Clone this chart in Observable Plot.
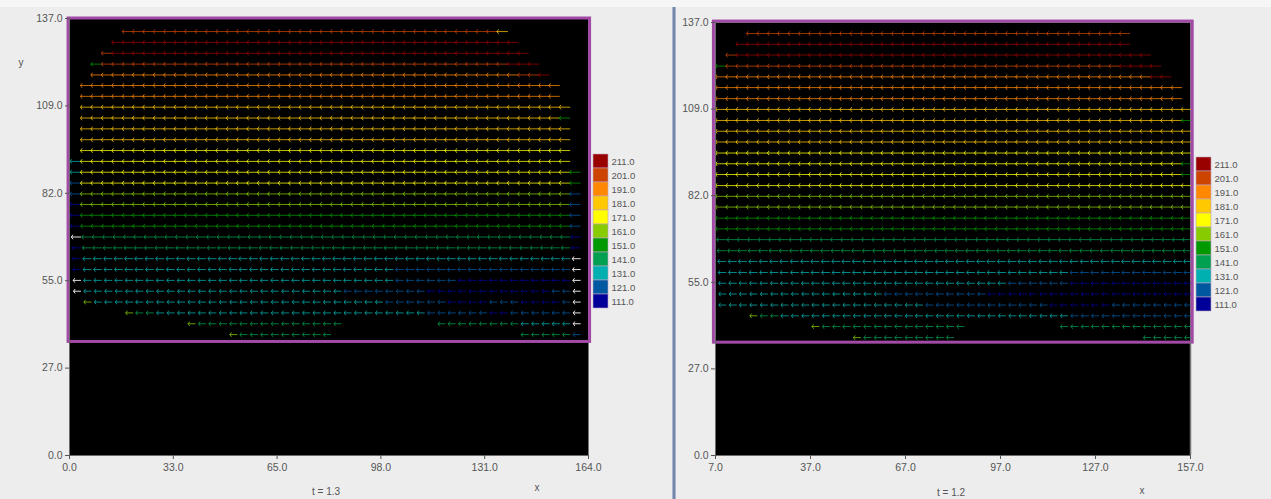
<!DOCTYPE html>
<html><head><meta charset="utf-8">
<script src="https://cdn.jsdelivr.net/npm/d3@7"></script>
<script src="https://cdn.jsdelivr.net/npm/@observablehq/plot@0.6"></script>
<style>
html,body{margin:0;padding:0;background:#ededed;width:1271px;height:499px;overflow:hidden;font-family:"Liberation Sans",Arial,sans-serif;}
#root{position:relative;width:1271px;height:499px;}
.abs{position:absolute;}
.lbl{position:absolute;font-size:10px;color:#555;transform:translate(-50%,-50%);white-space:nowrap;}
</style></head><body><div id="root"></div>
<script>
// ---- legend levels ----
const levels = [211,201,191,181,171,161,151,141,131,121,111];
const levelColors = ["#990000","#cc4400","#ff8800","#ffc800","#ffff00","#88cc00","#009900","#00a050","#00b0b0","#0058a0","#000099"];
const levelCodes = "kjihgfedcba";   // code letter for each level above
const outsideColor = "#eeeeee";      // code "w"

// ---- left panel (t = 1.3) ----
const leftXTicks = [0, 32.8, 65.6, 98.4, 131.2, 164];
const leftXLabels = ["0.0","33.0","65.0","98.0","131.0","164.0"];
const yTicks = [0, 27.4, 54.8, 82.2, 109.6, 137];
const yLabels = ["0.0","27.0","55.0","82.0","109.0","137.0"];
const leftBox = [-0.3, 164.5, 35.6, 137];
const leftColX = [3.5,6.8,10.1,13.4,16.7,20.0,23.2,26.5,29.8,33.1,36.4,39.7,43.0,46.3,49.6,52.9,56.1,59.4,62.7,66.0,69.3,72.6,75.9,79.2,82.5,85.8,89.0,92.3,95.6,98.9,102.2,105.5,108.8,112.1,115.4,118.7,121.9,125.2,128.5,131.8,135.1,138.4,141.7,145.0,148.3,151.6,154.8,158.1,161.4];
const leftRowY = [132.9,129.5,126.1,122.7,119.3,116.0,112.6,109.2,105.8,102.4,99.0,95.6,92.2,88.8,85.4,82.0,78.7,75.3,71.9,68.5,65.1,61.7,58.3,54.9,51.5,48.1,44.7,41.3,37.9];
const leftRowLen = [3.3,3.3,3.3,3.3,3.3,3.3,3.3,3.3,3.3,3.3,3.3,3.3,3.3,3.3,3.3,3.3,3.3,3.3,3.2,2.9,2.7,2.5,2.4,2.3,2.2,2.2,2.2,2.2,2.2];
const leftRowCodes = [
"5.36j1h7.","4.39k6.","3.1j40k5.","2.1e39j3k4.","2.41i2j1k3.","1.46i2.","1.46i2.","1.47h1.","1.46h1e1.","1.47h1.",
"1.47h1.","1.47g1.","1c47g1.","1c47g1e","1b47g1e","1b47f1b","1a47f1b","1a47e1b","1a47e1b","1w47d1a",
"1a47d1a","1a47c1w","1a30c17b1w","1w30c6b11a1w","1w25c8b12a2b1w","1.1f28c6b4a3b4a1b1w","5.1f2d26c6b2a6b1w","11.1f14d9.8d5c1w","15.1f9d18.5d1b"];

// ---- right panel (t = 1.2) ----
const rightXTicks = [7, 37, 67, 97, 127, 157];
const rightXLabels = ["7.0","37.0","67.0","97.0","127.0","157.0"];
const rightBox = [6.5, 157.7, 35.7, 137.3];
const rightColX = [10.3,13.6,16.8,20.1,23.4,26.7,29.9,33.2,36.5,39.7,43.0,46.3,49.5,52.8,56.1,59.4,62.6,65.9,69.2,72.4,75.7,79.0,82.2,85.5,88.8,92.1,95.3,98.6,101.9,105.1,108.4,111.7,114.9,118.2,121.5,124.8,128.0,131.3,134.6,137.8,141.1,144.4,147.6,150.9,154.2,157.4];
const rightRowY = [133.5,130.1,126.7,123.2,119.8,116.4,112.9,109.5,106.0,102.6,99.2,95.7,92.3,88.9,85.4,82.0,78.6,75.1,71.7,68.3,64.8,61.4,57.9,54.5,51.1,47.6,44.2,40.8,37.3];
const rightRowLen = [3.27,3.27,3.27,3.27,3.27,3.27,3.27,3.27,3.27,3.27,3.27,3.27,3.27,3.27,3.27,3.27,3.27,3.27,3.2,2.9,2.7,2.5,2.4,2.3,2.2,2.2,2.2,2.2,2.2];
const rightRowCodes = [
"3.37j6.","2.38k6.","1.1j40k4.","1e38j4k3.","42i2k2.","45i1.","45i1.","46h","45h1e","46h",
"46h","46g","45g1e","45g1e","46g","46f","46f","46e","46e","46d",
"46d","46c","34c12b","28c6b12a","16c10b20a","20c12b6a8b","3.1f2d28c12b","9.1f14d9.13d","13.1f9d18.5d"];

// ---- helpers ----
function decode(s){const out=[];for(const m of s.matchAll(/(\d+)([a-kw.])/g))for(let i=0;i<+m[1];i++)out.push(m[2]);return out;}
function colorOf(c){return c==="w"?outsideColor:levelColors[levelCodes.indexOf(c)];}
function field(rowY,rowLen,rowCodes,colX){
  const arr=[];
  rowCodes.forEach((s,i)=>decode(s).forEach((c,k)=>{if(c!=="."&&k<colX.length)arr.push({x:colX[k],y:rowY[i],len:rowLen[i],code:c});}));
  return arr;
}
const FONT='"Liberation Sans",Arial,sans-serif';
function panel(o){
  const xl=new Map(o.xTicks.map((v,i)=>[v,o.xLabels[i]]));
  const yl=new Map(yTicks.map((v,i)=>[v,yLabels[i]]));
  const marks=[
      Plot.frame({fill:"black"}),
      Plot.arrow(o.data,{x1:"x",y1:"y",x2:d=>d.x-d.len,y2:"y",stroke:d=>colorOf(d.code),strokeOpacity:d=>d.code==="w"?0.95:0.76,strokeWidth:1,headLength:3.5,headAngle:110}),
      Plot.rect([o.box],{x1:d=>d[0],x2:d=>d[1],y1:d=>d[2],y2:d=>d[3],fill:"none",stroke:"#a24ba6",strokeWidth:3}),
      Plot.ruleY([0],{stroke:"#6a6a6a"}),
      Plot.ruleX([o.xDomain[0]],{stroke:"#6a6a6a"}),
      Plot.axisX({ticks:o.xTicks,tickFormat:d=>xl.get(d),tickSize:4,tickPadding:4,label:null,stroke:"#555"}),
      Plot.axisY({ticks:yTicks,tickFormat:d=>yl.get(d),tickSize:4,tickPadding:3,label:null,stroke:"#555"})
  ];
  if(o.edge) marks.push(Plot.ruleX([o.xDomain[1]],{y1:0,y2:o.box[2],stroke:"#777",strokeWidth:1.5}));
  return Plot.plot({
    width:o.width,height:499,marginLeft:o.ml,marginRight:o.mr,marginTop:o.mt,marginBottom:44,
    x:{domain:o.xDomain},y:{domain:[0,137]},
    style:{background:"transparent",fontFamily:FONT,fontSize:"10.5px",color:"#555",overflow:"visible"},
    marks
  });
}
function legend(){
  return Plot.plot({
    width:42,height:156,marginLeft:0,marginRight:27,marginTop:0,marginBottom:0,
    y:{type:"band",domain:levels,padding:0},
    style:{background:"transparent",fontFamily:FONT,fontSize:"9.5px",color:"#555",overflow:"visible"},
    marks:[
      Plot.cell(levels,{y:d=>d,fill:d=>levelColors[levels.indexOf(d)],stroke:"#c0a6c4",strokeWidth:0.6}),
      Plot.axisY({anchor:"right",tickSize:0,tickPadding:3,tickFormat:d=>d.toFixed(1),label:null})
    ]
  });
}
function place(el,left,top){el.style.position="absolute";el.style.left=left+"px";el.style.top=top+"px";root.appendChild(el);}
function label(text,x,y){const d=document.createElement("div");d.className="lbl";d.textContent=text;d.style.left=x+"px";d.style.top=y+"px";root.appendChild(d);}
const root=document.getElementById("root");

// top light strip and divider
const strip=document.createElement("div");strip.className="abs";Object.assign(strip.style,{left:"0",top:"0",width:"1271px",height:"7px",background:"#f6f6f6"});root.appendChild(strip);
const div=document.createElement("div");div.className="abs";Object.assign(div.style,{left:"672px",top:"7px",width:"2px",height:"492px",background:"#7385aa",borderLeft:"1px solid #aab6cc",borderRight:"1px solid #aab6cc"});root.appendChild(div);

place(panel({width:673,ml:69,mr:85,mt:18,xDomain:[0,164],xTicks:leftXTicks,xLabels:leftXLabels,box:leftBox,data:field(leftRowY,leftRowLen,leftRowCodes,leftColX)}),0,0);
place(panel({width:595,ml:39,mr:81,mt:22,xDomain:[7,157],xTicks:rightXTicks,xLabels:rightXLabels,box:rightBox,edge:true,data:field(rightRowY,rightRowLen,rightRowCodes,rightColX)}),676,0);
place(legend(),593,153);
place(legend(),1196,156);
label("y",21,62);
label("x",537,487);
label("t = 1.3",326,491);
label("x",1142,490);
label("t = 1.2",951,492);
</script></body></html>
